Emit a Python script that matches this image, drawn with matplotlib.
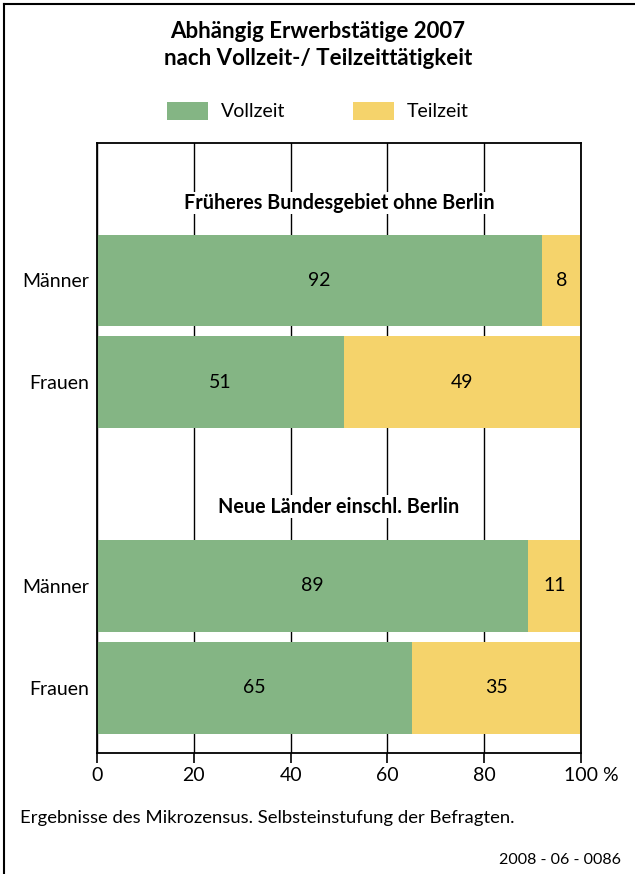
import matplotlib
matplotlib.use("Agg")
import matplotlib.pyplot as plt
import matplotlib.transforms as mtransforms
from matplotlib.patches import Patch
from matplotlib.lines import Line2D

plt.rcParams['font.family'] = ['Lato', 'DejaVu Sans']

groups = ["Früheres Bundesgebiet ohne Berlin", "Neue Länder einschl. Berlin"]
categories = ["Männer", "Frauen", "Männer", "Frauen"]
vollzeit = [92, 51, 89, 65]
teilzeit = [8, 49, 11, 35]
xticks = [0, 20, 40, 60, 80, 100]
xticklabels = ["0", "20", "40", "60", "80", "100 %"]

green = "#84B584"
yellow = "#F5D36B"

W, H = 635, 874
fig = plt.figure(figsize=(W / 100, H / 100), dpi=100)

left, right, top, bottom = 97, 581, 143, 753
ax = fig.add_axes([left / W, 1 - bottom / H, (right - left) / W, (bottom - top) / H])

ypos = [0, 1, 3, 4]
bh = 0.9
ax.barh(ypos, vollzeit, height=bh, color=green, zorder=2)
ax.barh(ypos, teilzeit, left=vollzeit, height=bh, color=yellow, zorder=2)

for y, v, t in zip(ypos, vollzeit, teilzeit):
    ax.text(v / 2, y, str(v), ha="center", va="center", fontsize=14, zorder=4)
    ax.text(v + t / 2, y, str(t), ha="center", va="center", fontsize=14, zorder=4)

ax.set_ylim(4.64, -1.35)
ax.set_xlim(0, 100)
ax.set_yticks(ypos)
ax.set_yticklabels(categories, fontsize=14)
ax.tick_params(axis="y", length=0, pad=6)
ax.set_xticks(xticks)
ax.set_xticklabels(xticklabels, fontsize=14)
ax.tick_params(axis="x", length=7.2, width=1.2, direction="out", pad=3)
last = ax.get_xticklabels()[-1]
last.set_horizontalalignment("left")
last.set_transform(last.get_transform() + mtransforms.ScaledTranslation(-0.17, 0, fig.dpi_scale_trans))

for s in ax.spines.values():
    s.set_color("black")
    s.set_linewidth(1.3)

ax.grid(axis="x", color="black", linewidth=1.0, zorder=1)
ax.set_axisbelow(True)

for gy, g in zip([-0.76, 2.22], groups):
    ax.text(50, gy, g, ha="center", va="center", fontsize=14.2, fontweight="bold",
            bbox=dict(facecolor="white", edgecolor="none", pad=1.0), zorder=3)

fig.text(318 / W, 1 - 45 / H, "Abhängig Erwerbstätige 2007\nnach Vollzeit-/ Teilzeittätigkeit",
         ha="center", va="center", fontsize=16, fontweight="bold", linespacing=1.3)

handles = [Patch(facecolor=green, edgecolor="none"), Patch(facecolor=yellow, edgecolor="none")]
fig.legend(handles, ["Vollzeit", "Teilzeit"], loc="center", bbox_to_anchor=(318 / W, 1 - 111 / H),
           ncol=2, frameon=False, fontsize=14, handlelength=2.1, handleheight=1.1,
           columnspacing=3.5, handletextpad=0.65)

fig.text(20 / W, 1 - 818 / H, "Ergebnisse des Mikrozensus. Selbsteinstufung der Befragten.",
         ha="left", va="center", fontsize=13.3)
fig.text(621 / W, 1 - 860 / H, "2008 - 06 - 0086", ha="right", va="center", fontsize=11.5)

fig.add_artist(Line2D([4 / W, 4 / W], [0, 1 - 4 / H], color="black", linewidth=1.5,
                      transform=fig.transFigure))
fig.add_artist(Line2D([4 / W, 1], [1 - 4 / H, 1 - 4 / H], color="black", linewidth=1.5,
                      transform=fig.transFigure))

fig.savefig("out.png", dpi=100)
